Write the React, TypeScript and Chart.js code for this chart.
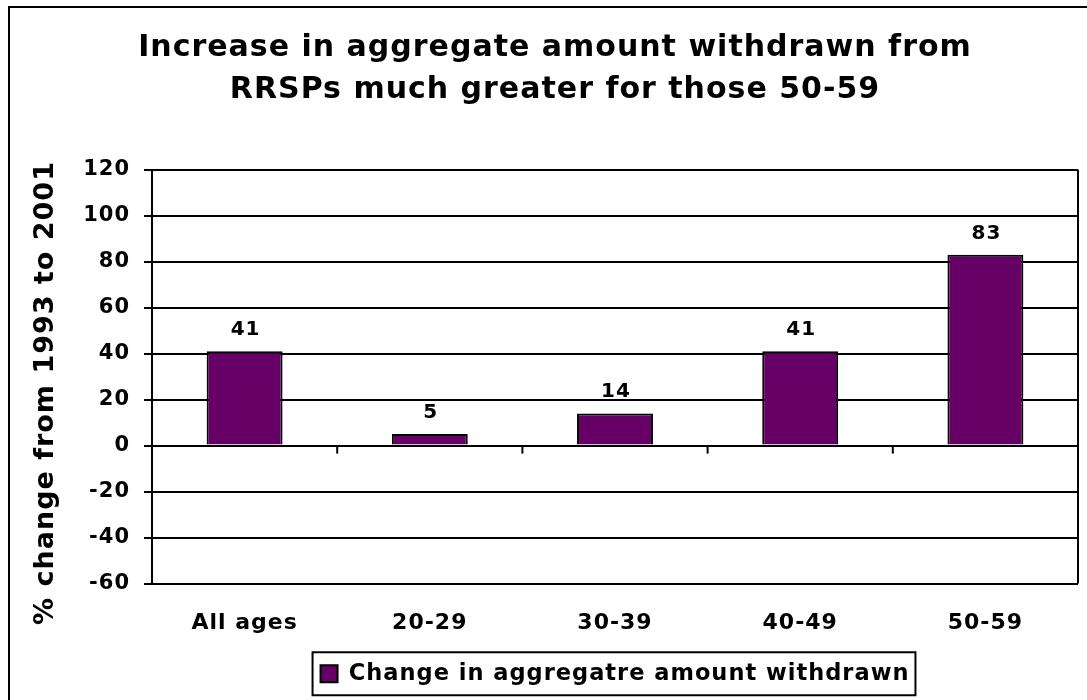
import React, { useEffect, useRef } from "react";
import { Chart, registerables } from "chart.js";

Chart.register(...registerables);

const categories = ["All ages", "20-29", "30-39", "40-49", "50-59"];
const values = [41, 5, 14, 41, 83];
const seriesLabel = "Change in aggregatre amount withdrawn";
const titleLines = ["Increase in aggregate amount withdrawn from", "RRSPs much greater for those 50-59"];
const yAxisTitle = "% change from 1993 to 2001";
const yMin = -60;
const yMax = 120;
const yStep = 20;

const FONT = "'DejaVu Sans', Verdana, sans-serif";
const BAR_COLOR = "#660066";
const SPACING = "1px";

const spacingPlugin = {
  id: "spacing",
  beforeUpdate(chart: any) {
    chart.ctx.letterSpacing = SPACING;
  },
  beforeDraw(chart: any) {
    chart.ctx.letterSpacing = SPACING;
  },
};

const decorPlugin = {
  id: "decor",
  afterDraw(chart: any) {
    const { ctx, chartArea, scales } = chart;
    const y = scales.y;
    ctx.save();
    ctx.letterSpacing = SPACING;
    // outer frame (top and left visible)
    ctx.strokeStyle = "#000";
    ctx.lineWidth = 2;
    ctx.beginPath();
    ctx.moveTo(9, 720);
    ctx.lineTo(9, 7);
    ctx.lineTo(1100, 7);
    ctx.stroke();

    // plot right border
    ctx.beginPath();
    ctx.moveTo(chartArea.right, chartArea.top);
    ctx.lineTo(chartArea.right, chartArea.bottom);
    ctx.stroke();

    // category tick marks on zero line
    const zeroY = y.getPixelForValue(0);
    const n = categories.length;
    const catW = (chartArea.right - chartArea.left) / n;
    for (let i = 0; i <= n; i++) {
      const px = chartArea.left + i * catW;
      ctx.beginPath();
      ctx.moveTo(px, zeroY);
      ctx.lineTo(px, zeroY + 8);
      ctx.stroke();
    }

    // data labels
    ctx.fillStyle = "#000";
    ctx.font = `bold 20px ${FONT}`;
    ctx.textAlign = "center";
    ctx.textBaseline = "alphabetic";
    const meta = chart.getDatasetMeta(0);
    meta.data.forEach((bar: any, i: number) => {
      ctx.fillText(String(values[i]), bar.x + 1, bar.y - 16);
    });

    // y axis title
    ctx.save();
    ctx.translate(46, 393);
    ctx.rotate(-Math.PI / 2);
    ctx.font = `bold 27px ${FONT}`;
    ctx.textAlign = "center";
    ctx.textBaseline = "middle";
    ctx.fillText(yAxisTitle, 0, 0);
    ctx.restore();

    // legend frame
    const lg = chart.legend;
    if (lg && lg.legendHitBoxes && lg.legendHitBoxes.length) {
      const hb = lg.legendHitBoxes[0];
      const left = hb.left - 8;
      const right = hb.left + hb.width + 6;
      const cy = hb.top + hb.height / 2;
      ctx.lineWidth = 2;
      ctx.strokeRect(left, cy - 21.5, right - left, 43);
    }
    ctx.restore();
  },
};

export default function App() {
  const ref = useRef<HTMLCanvasElement | null>(null);
  useEffect(() => {
    if (!ref.current) return;
    const chart = new Chart(ref.current, {
      type: "bar",
      data: {
        labels: categories,
        datasets: [
          {
            label: seriesLabel,
            data: values,
            backgroundColor: BAR_COLOR,
            borderColor: "#000",
            borderWidth: 2,
            categoryPercentage: 1,
            barPercentage: 0.41,
          },
        ],
      },
      options: {
        animation: false,
        responsive: false,
        devicePixelRatio: 1,
        layout: { padding: { left: 32, right: 9, top: 0, bottom: 5 } },
        plugins: {
          title: {
            display: true,
            text: titleLines,
            color: "#000",
            font: { family: FONT, size: 30, weight: "bold", lineHeight: 1.38 },
            padding: { top: 28, bottom: 59 },
          },
          legend: {
            display: true,
            position: "bottom",
            fullSize: false,
            labels: {
              color: "#000",
              font: { family: FONT, size: 22.5, weight: "bold" },
              boxWidth: 17,
              boxHeight: 17,
              padding: 10,
            },
          },
          tooltip: { enabled: false },
        },
        scales: {
          x: {
            grid: { display: false, drawTicks: false },
            border: { display: false },
            ticks: {
              color: "#000",
              font: { family: FONT, size: 22, weight: "bold" },
              padding: 27,
              maxRotation: 0,
            },
            afterFit: (s: any) => {
              s.height = 69;
            },
          },
          y: {
            min: yMin,
            max: yMax,
            grid: { color: "#000", lineWidth: 2, tickLength: 8, drawTicks: true },
            border: { display: true, color: "#000", width: 2 },
            ticks: {
              stepSize: yStep,
              color: "#000",
              font: { family: FONT, size: 21, weight: "bold" },
              padding: 14,
            },
            afterFit: (s: any) => {
              s.width = 120;
            },
          },
        },
      },
      plugins: [spacingPlugin, decorPlugin],
    });
    return () => chart.destroy();
  }, []);
  return (
    <div style={{ position: "fixed", left: 0, top: 0, width: 1087, height: 700, background: "#fff" }}>
      <canvas ref={ref} width={1087} height={700} />
    </div>
  );
}
